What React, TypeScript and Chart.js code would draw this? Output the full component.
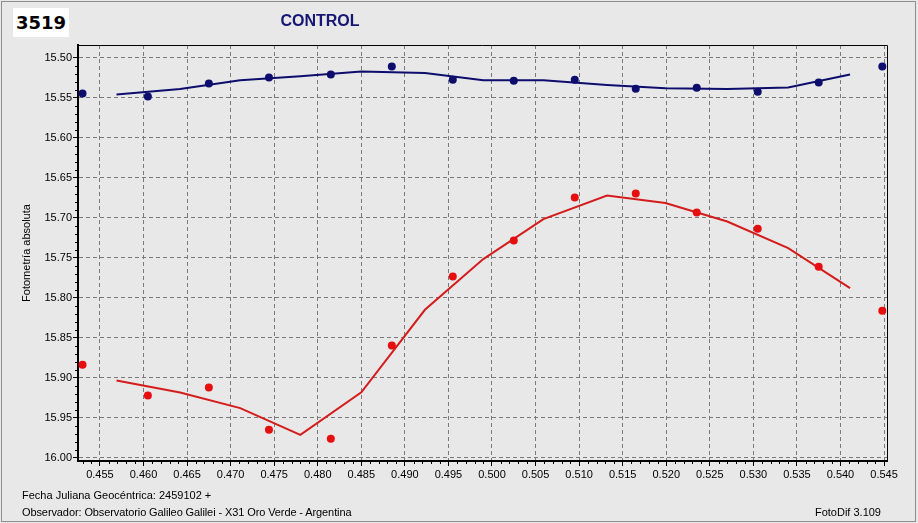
import React, { useEffect, useRef } from 'react';
import { Chart, registerables } from 'chart.js';

Chart.register(...registerables);

// ---- data ----
const xPoints = [0.4530, 0.4605, 0.4675, 0.4744, 0.4815, 0.4885, 0.4955, 0.5025, 0.5095, 0.5165, 0.5235, 0.5305, 0.5375, 0.5448];
const controlPoints = [15.5446, 15.5484, 15.5321, 15.5246, 15.5209, 15.5109, 15.5275, 15.5288, 15.5275, 15.5388, 15.5375, 15.5425, 15.5309, 15.5109];
const variablePoints = [15.8838, 15.9221, 15.9121, 15.9650, 15.9763, 15.8596, 15.7734, 15.7284, 15.6746, 15.6696, 15.6934, 15.7138, 15.7613, 15.8163];

const xLine = [0.4569, 0.4642, 0.4711, 0.4780, 0.4850, 0.4923, 0.4990, 0.5059, 0.5132, 0.5199, 0.5270, 0.5340, 0.5411];
const controlLine = [15.546, 15.539, 15.528, 15.523, 15.517, 15.519, 15.528, 15.528, 15.534, 15.538, 15.539, 15.537, 15.521];
const variableLine = [15.9034, 15.9184, 15.9379, 15.9713, 15.9181, 15.8150, 15.7516, 15.7016, 15.6721, 15.6816, 15.7046, 15.7379, 15.7879];

const xTicks = [0.455, 0.460, 0.465, 0.470, 0.475, 0.480, 0.485, 0.490, 0.495, 0.500, 0.505, 0.510, 0.515, 0.520, 0.525, 0.530, 0.535, 0.540, 0.545];
const yTicks = [15.50, 15.55, 15.60, 15.65, 15.70, 15.75, 15.80, 15.85, 15.90, 15.95, 16.00];

const X_MIN = 0.45248;
const X_MAX = 0.54534;
const Y_MIN = 15.484;
const Y_MAX = 16.004;

const NAVY = '#0d0d6e';
const RED_PT = '#e60e0e';
const RED_LN = '#d41c1c';
const FONT = '"Liberation Sans", Arial, sans-serif';

const toXY = (xs: number[], ys: number[]) => xs.map((x, i) => ({ x, y: ys[i] }));

const framePlugin = {
  id: 'frameAndMinor',
  afterDraw(chart: any) {
    const { ctx, chartArea: a, scales } = chart;
    ctx.save();
    ctx.strokeStyle = '#000';
    ctx.lineWidth = 1;
    ctx.setLineDash([]);
    ctx.beginPath();
    ctx.moveTo(a.left, a.top + 0.5);
    ctx.lineTo(a.right + 0.5, a.top + 0.5);
    ctx.lineTo(a.right + 0.5, a.bottom);
    // minor x ticks
    const xs = scales.x;
    for (let i = 0; i < xTicks.length; i++) {
      for (let k = -4; k <= 4; k++) {
        if (k === 0) continue;
        const v = xTicks[i] + (k * (xTicks[1] - xTicks[0])) / 5;
        if (v < X_MIN || v > X_MAX) continue;
        if (k < 0 && i > 0) continue;
        const px = Math.round(xs.getPixelForValue(v)) + 0.5;
        ctx.moveTo(px, a.bottom);
        ctx.lineTo(px, a.bottom + 3);
      }
    }
    // minor y ticks
    const ys = scales.y;
    for (let i = 0; i < yTicks.length - 1; i++) {
      for (let k = 1; k <= 4; k++) {
        const v = yTicks[i] + (k * (yTicks[1] - yTicks[0])) / 5;
        const py = Math.round(ys.getPixelForValue(v)) + 0.5;
        ctx.moveTo(a.left - 3, py);
        ctx.lineTo(a.left, py);
      }
    }
    ctx.stroke();
    ctx.restore();
  },
};

export default function App() {
  const ref = useRef<HTMLCanvasElement>(null);

  useEffect(() => {
    Chart.defaults.font.family = FONT;
    const chart = new Chart(ref.current as HTMLCanvasElement, {
      type: 'scatter',
      data: {
        datasets: [
          {
            label: 'control',
            data: toXY(xPoints, controlPoints),
            showLine: false,
            pointRadius: 4,
            pointBackgroundColor: NAVY,
            pointBorderColor: NAVY,
            pointBorderWidth: 0,
          },
          {
            label: 'control media',
            data: toXY(xLine, controlLine),
            showLine: true,
            pointRadius: 0,
            borderColor: NAVY,
            borderWidth: 2,
            tension: 0,
          },
          {
            label: 'variable',
            data: toXY(xPoints, variablePoints),
            showLine: false,
            pointRadius: 4,
            pointBackgroundColor: RED_PT,
            pointBorderColor: RED_PT,
            pointBorderWidth: 0,
          },
          {
            label: 'variable media',
            data: toXY(xLine, variableLine),
            showLine: true,
            pointRadius: 0,
            borderColor: RED_LN,
            borderWidth: 2,
            tension: 0,
          },
        ],
      },
      options: {
        responsive: false,
        animation: false,
        devicePixelRatio: 1,
        layout: { padding: { left: 0, top: 45, right: 31, bottom: 0 } },
        plugins: {
          legend: { display: false },
          tooltip: { enabled: false },
          title: { display: false },
        },
        scales: {
          x: {
            type: 'linear',
            min: X_MIN,
            max: X_MAX,
            afterBuildTicks: (scale: any) => {
              scale.ticks = xTicks.map((v) => ({ value: v }));
            },
            afterFit: (scale: any) => {
              scale.height = 62;
            },
            ticks: {
              autoSkip: false,
              maxRotation: 0,
              padding: 2,
              color: '#000',
              font: { size: 11, family: FONT },
              callback: (v: any) => Number(v).toFixed(3),
            },
            grid: {
              color: '#7a7a7a',
              lineWidth: 1,
              tickLength: 5,
              tickColor: '#000',
              drawTicks: true,
            },
            border: { display: true, color: '#000', width: 2, dash: [4, 3] },
          },
          y: {
            type: 'linear',
            reverse: true,
            min: Y_MIN,
            max: Y_MAX,
            afterBuildTicks: (scale: any) => {
              scale.ticks = yTicks.map((v) => ({ value: v }));
            },
            afterFit: (scale: any) => {
              scale.width = 78;
            },
            ticks: {
              autoSkip: false,
              padding: 1,
              color: '#000',
              font: { size: 11, family: FONT },
              callback: (v: any) => Number(v).toFixed(2),
            },
            grid: {
              color: '#7a7a7a',
              lineWidth: 1,
              tickLength: 5,
              tickColor: '#000',
              drawTicks: true,
            },
            border: { display: true, color: '#000', width: 2, dash: [4, 3] },
            title: {
              display: true,
              text: 'Fotometría absoluta',
              color: '#000',
              font: { size: 11, family: FONT },
              padding: { top: 20, bottom: 0 },
            },
          },
        },
      },
      plugins: [framePlugin],
    } as any);
    return () => chart.destroy();
  }, []);

  return (
    <div
      style={{
        position: 'fixed',
        left: 0,
        top: 0,
        width: 918,
        height: 523,
        background: '#e8e8e8',
        overflow: 'hidden',
        fontFamily: FONT,
      }}
    >
      <div
        style={{
          position: 'absolute',
          left: 1,
          top: 1,
          width: 915,
          height: 521,
          boxSizing: 'border-box',
          border: '1px solid #8e8e8e',
        }}
      />
      <canvas ref={ref} width={918} height={523} style={{ position: 'absolute', left: 0, top: 0 }} />
      <div
        style={{
          position: 'absolute',
          left: 13,
          top: 8,
          width: 56,
          height: 29,
          background: '#fff',
          fontFamily: '"DejaVu Sans", sans-serif',
          fontWeight: 'bold',
          fontSize: 18,
          lineHeight: '29px',
          color: '#000',
          textAlign: 'center',
        }}
      >
        3519
      </div>
      <div
        style={{
          position: 'absolute',
          left: 220,
          top: 13,
          width: 200,
          textAlign: 'center',
          fontWeight: 'bold',
          fontSize: 16,
          lineHeight: '16px',
          color: '#161675',
        }}
      >
        CONTROL
      </div>
      <div style={{ position: 'absolute', left: 22, top: 489, fontSize: 11, lineHeight: '13px', color: '#000', whiteSpace: 'nowrap' }}>
        Fecha Juliana Geocéntrica: 2459102 +
      </div>
      <div style={{ position: 'absolute', left: 22, top: 506, fontSize: 11, lineHeight: '13px', color: '#000', whiteSpace: 'nowrap', letterSpacing: '-0.1px' }}>
        Observador: Observatorio Galileo Galilei - X31 Oro Verde - Argentina
      </div>
      <div style={{ position: 'absolute', right: 37, top: 506, fontSize: 11, lineHeight: '13px', color: '#000', whiteSpace: 'nowrap' }}>
        FotoDif 3.109
      </div>
    </div>
  );
}
